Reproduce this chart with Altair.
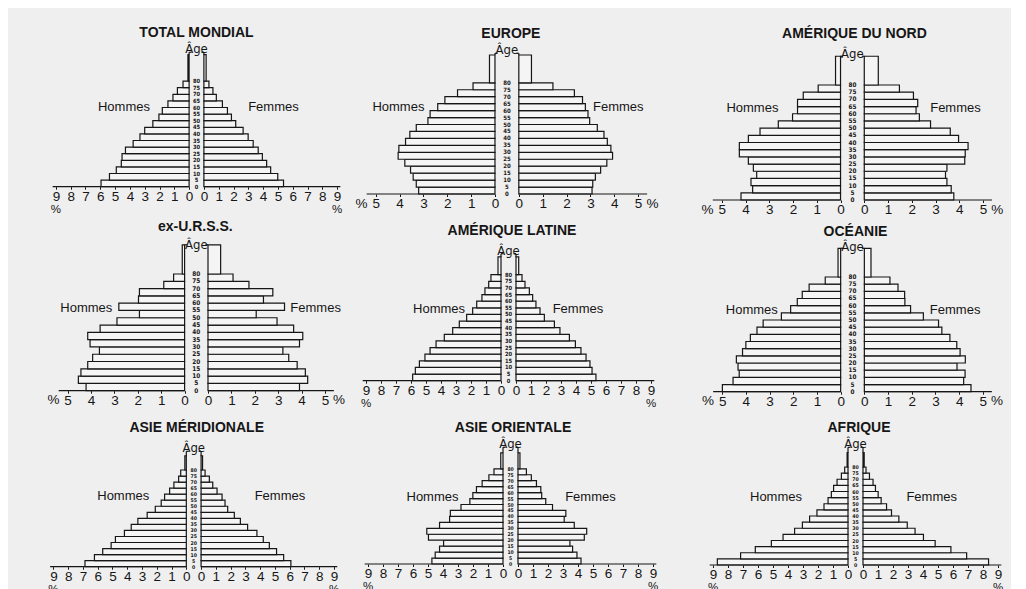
import altair as alt
import pandas as pd

# ---------------- data ----------------
TITLES = ["TOTAL MONDIAL", "EUROPE", "AMÉRIQUE DU NORD",
          "ex-U.R.S.S.", "AMÉRIQUE LATINE", "OCÉANIE",
          "ASIE MÉRIDIONALE", "ASIE ORIENTALE", "AFRIQUE"]
AGE_GROUPS = list(range(0, 80, 5))      # 0-4 ... 75-79
AGE_LABELS = list(range(0, 85, 5))      # 0 ... 80
SCALE_MAX = [9, 5, 5, 5, 9, 5, 9, 9, 9]
HOMMES_LBL = "Hommes"
FEMMES_LBL = "Femmes"
AGE_LBL = "Âge"

# % of total population per 5-year group, from 0-4 (first) to 75-79 (last)
HOMMES = [
    [5.95, 5.38, 4.92, 4.58, 4.53, 4.30, 3.78, 3.32, 3.00, 2.45, 2.04, 1.81, 1.43, 1.09, 0.79, 0.41],
    [3.20, 3.30, 3.43, 3.54, 3.78, 4.06, 4.03, 3.75, 3.57, 3.30, 2.81, 2.72, 2.40, 2.10, 1.57, 0.92],
    [4.19, 3.70, 3.77, 3.53, 3.67, 3.88, 4.26, 4.26, 3.88, 3.39, 2.62, 2.02, 1.81, 1.81, 1.57, 0.94],
    [4.21, 4.54, 4.43, 4.14, 3.93, 3.64, 4.04, 4.14, 3.61, 2.89, 1.93, 2.81, 1.97, 1.93, 0.89, 0.47],
    [5.89, 5.71, 5.44, 5.07, 4.73, 4.33, 3.78, 3.22, 2.78, 2.29, 1.89, 1.62, 1.27, 1.07, 0.82, 0.67],
    [4.99, 4.54, 4.28, 4.33, 4.40, 4.14, 4.00, 3.81, 3.53, 3.27, 2.50, 2.11, 1.83, 1.62, 1.33, 0.65],
    [6.86, 6.22, 5.66, 5.09, 4.80, 4.19, 3.73, 3.28, 2.65, 2.10, 1.70, 1.47, 1.13, 0.84, 0.52, 0.38],
    [4.74, 4.52, 4.23, 3.96, 4.97, 5.08, 4.23, 3.56, 3.51, 2.80, 2.21, 2.01, 1.77, 1.39, 0.94, 0.60],
    [8.71, 7.16, 6.18, 5.11, 4.33, 3.56, 3.04, 2.56, 2.07, 1.60, 1.33, 1.11, 0.96, 0.73, 0.44, 0.22],
]
FEMMES = [
    [5.38, 4.99, 4.51, 4.24, 3.95, 3.67, 3.33, 2.99, 2.65, 2.15, 1.86, 1.59, 1.25, 0.84, 0.61, 0.34],
    [3.07, 3.10, 3.21, 3.43, 3.69, 3.93, 3.86, 3.71, 3.57, 3.29, 2.97, 2.90, 2.79, 2.67, 2.33, 1.43],
    [3.77, 3.66, 3.48, 3.42, 3.48, 4.23, 4.25, 4.37, 3.97, 3.62, 2.79, 2.32, 2.18, 2.25, 2.07, 1.48],
    [3.91, 4.26, 4.16, 3.81, 3.45, 3.20, 3.91, 4.05, 3.66, 2.95, 2.06, 3.27, 2.37, 2.77, 1.75, 1.07],
    [5.33, 5.07, 4.93, 4.67, 4.33, 3.96, 3.56, 2.93, 2.56, 1.89, 1.60, 1.33, 1.11, 0.89, 0.60, 0.40],
    [4.50, 4.19, 4.25, 3.91, 4.26, 4.04, 3.90, 3.61, 3.27, 3.13, 2.49, 1.95, 1.71, 1.70, 1.42, 1.08],
    [6.08, 5.59, 5.11, 4.62, 4.21, 3.78, 3.15, 2.66, 2.25, 1.80, 1.62, 1.42, 1.08, 0.79, 0.56, 0.27],
    [4.20, 3.93, 3.64, 3.46, 4.42, 4.58, 3.75, 3.08, 3.19, 2.30, 1.85, 1.58, 1.52, 1.23, 0.89, 0.56],
    [8.37, 6.91, 5.86, 4.81, 4.03, 3.47, 2.95, 2.39, 1.90, 1.57, 1.21, 1.01, 0.83, 0.67, 0.43, 0.20],
]
# open-ended group 80 +: width (%) and upper age edge of its block
HOMMES_80 = [0.08, 0.23, 0.21, 0.10, 0.20, 0.11, 0.10, 0.15, 0.06]
FEMMES_80 = [0.15, 0.53, 0.59, 0.54, 0.18, 0.28, 0.10, 0.13, 0.08]
OPEN_TOP = [100, 100, 100, 100, 93.4, 100, 91.6, 93.4, 91.7]

# ---------------- layout (pixels / styling) ----------------
G = 0.5                       # half gap between the two halves (in % units)
COL_X0 = [8, 350, 670]
COL_W = [342, 320, 335]
ROW_H = [209, 192, 180]
ROW_Y0 = [8, 8 + 209, 8 + 209 + 192]
# cx: page x of centre, ku: px per %, ay: page y of axis, ky: px per year
LAYOUT = [
    dict(cx=195.5, ku=14.8, ay=185.7, ky=1.32, ty=32.0, tdx=0, agey=48.3, hx=(-4.9, 5.2), hy=60.6),
    dict(cx=503.9, ku=23.85, ay=193.0, ky=1.39, ty=33.3, tdx=4, agey=49.3, hx=(-4.55, 4.67), hy=62.6),
    dict(cx=847.4, ku=23.75, ay=199.0, ky=1.4375, ty=33.3, tdx=2, agey=53.0, hx=(-4.21, 4.34), hy=64.0),
    dict(cx=195.3, ku=23.4, ay=386.7, ky=1.459, ty=223.0, tdx=-1, agey=241.0, hx=(-4.7, 5.1), hy=56.7),
    dict(cx=505.5, ku=15.0, ay=376.7, ky=1.325, ty=226.7, tdx=3.5, agey=246.7, hx=(-4.63, 4.63), hy=54.0),
    dict(cx=847.5, ku=23.7, ay=387.7, ky=1.434, ty=227.7, tdx=3, agey=242.7, hx=(-4.25, 4.33), hy=57.0),
    dict(cx=192.7, ku=14.77, ay=560.7, ky=1.209, ty=421.7, tdx=3, agey=442.3, hx=(-4.77, 5.84), hy=58.5),
    dict(cx=507.5, ku=15.0, ay=558.0, ky=1.19, ty=421.7, tdx=2.5, agey=438.3, hx=(-5.2, 5.33), hy=56.5),
    dict(cx=850.5, ku=15.0, ay=559.0, ky=1.225, ty=422.0, tdx=3.5, agey=438.3, hx=(-5.3, 5.08), hy=55.5),
]
BG = "#efefef"
INK = "#161616"
FONT = "Liberation Sans, Arial, sans-serif"
NARROW = "Liberation Sans Narrow, DejaVu Sans Condensed, Liberation Sans, sans-serif"


def build_panel(i):
    r, c = divmod(i, 3)
    L = LAYOUT[i]
    x0, W = COL_X0[c], COL_W[c]
    y0, H = ROW_Y0[r], ROW_H[r]
    cx, ku, ay, ky = L["cx"], L["ku"], L["ay"], L["ky"]
    vmax = SCALE_MAX[i]

    def age_of(py):
        return (ay - py) / ky

    xs = alt.Scale(domain=[-(cx - x0) / ku, (x0 + W - cx) / ku], nice=False, zero=False)
    ys = alt.Scale(domain=[-(y0 + H - ay) / ky, (ay - y0) / ky], nice=False, zero=False)

    ticks = [-(k + G) for k in range(vmax, -1, -1)] + [k + G for k in range(0, vmax + 1)]
    ax = alt.Axis(values=ticks, labelExpr="format(abs(datum.value) - 0.5, 'd')",
                  offset=-(y0 + H - ay), domain=False, grid=False,
                  tickSize=2.5, tickColor=INK, tickWidth=1,
                  labelPadding=0, labelBaseline="top", labelFont=FONT,
                  labelFontSize=13.5, labelColor=INK, labelFlush=False,
                  labelOverlap=False, title=None)

    # bars
    rows = []
    for a, m, f in zip(AGE_GROUPS, HOMMES[i], FEMMES[i]):
        rows.append(dict(x=-G, x2=-G - m, y=a, y2=a + 5))
        rows.append(dict(x=G, x2=G + f, y=a, y2=a + 5))
    rows.append(dict(x=-G, x2=-G - HOMMES_80[i], y=80, y2=OPEN_TOP[i]))
    rows.append(dict(x=G, x2=G + FEMMES_80[i], y=80, y2=OPEN_TOP[i]))
    bars = alt.Chart(pd.DataFrame(rows)).mark_rect(
        fill="#f5f5f5", stroke=INK, strokeWidth=1.2
    ).encode(x2="x2:Q", y2="y2:Q")

    # axis lines (two halves) and the age-scale bracket
    ext = 0.22 if vmax == 9 else 0.38
    top = max(age_of(L["agey"] + 3), OPEN_TOP[i])
    d = 2.5 / ku
    lines = [
        dict(x=-G, x2=-(vmax + G + ext), y=0, y2=0),
        dict(x=G, x2=vmax + G + ext, y=0, y2=0),
        dict(x=-G, x2=-G, y=OPEN_TOP[i], y2=top),
        dict(x=G, x2=G, y=OPEN_TOP[i], y2=top),
        dict(x=-G, x2=-G + d, y=top, y2=top),
        dict(x=G, x2=G - d, y=top, y2=top),
    ]
    rules = alt.Chart(pd.DataFrame(lines)).mark_rule(
        color=INK, strokeWidth=1.2
    ).encode(x2="x2:Q", y2="y2:Q")

    # age labels in the central column (tiny, sized to the row pitch)
    ages = pd.DataFrame(dict(x=[0.0] * len(AGE_LABELS), y=AGE_LABELS,
                             t=[str(a) for a in AGE_LABELS]))
    age_fs = round(min(6.4, 5 * ky - 0.9), 1)
    age_txt = alt.Chart(ages).mark_text(
        font=NARROW, fontSize=age_fs, fontWeight="bold", color=INK,
        align="center", baseline="middle"
    ).encode(text="t:N")

    # title
    tdf = pd.DataFrame(dict(x=[L["tdx"] / ku], y=[age_of(L["ty"])], t=[TITLES[i]]))
    title = alt.Chart(tdf).mark_text(
        font=FONT, fontSize=14, fontWeight="bold", color=INK,
        align="center", baseline="middle"
    ).encode(text="t:N")

    # "Âge"
    adf = pd.DataFrame(dict(x=[0.0], y=[age_of(L["agey"])], t=[AGE_LBL]))
    age_head = alt.Chart(adf).mark_text(
        font=NARROW, fontSize=13, color=INK, align="center", baseline="middle"
    ).encode(text="t:N")

    # Hommes / Femmes
    sdf = pd.DataFrame(dict(x=list(L["hx"]), y=[L["hy"], L["hy"]],
                            t=[HOMMES_LBL, FEMMES_LBL]))
    sexes = alt.Chart(sdf).mark_text(
        font=FONT, fontSize=13, color=INK, align="center", baseline="middle"
    ).encode(text="t:N")

    # % signs
    if vmax == 9:
        pdf = pd.DataFrame(dict(x=[-(9 + G), 9 + G], y=[-17 / ky, -17 / ky], t=["%", "%"]))
        pct_fs = 11.5
    else:
        off = vmax + G + 0.6
        pdf = pd.DataFrame(dict(x=[-off, off], y=[-2.5 / ky, -2.5 / ky], t=["%", "%"]))
        pct_fs = 13.5
    pct = alt.Chart(pdf).mark_text(
        font=FONT, fontSize=pct_fs, color=INK, align="center", baseline="top"
    ).encode(text="t:N")

    return alt.layer(bars, rules, age_txt, title, age_head, sexes, pct).encode(
        x=alt.X("x:Q", scale=xs, axis=ax),
        y=alt.Y("y:Q", scale=ys, axis=None),
    ).properties(width=COL_W[c], height=ROW_H[r])


panels = [build_panel(i) for i in range(9)]
rows = [alt.hconcat(*panels[r * 3:r * 3 + 3], spacing=0) for r in range(3)]
chart = alt.vconcat(*rows, spacing=0).properties(
    padding=0, background=BG
).configure_view(stroke="transparent")

chart.save("out.html", embed_options={"renderer": "svg", "actions": False})
